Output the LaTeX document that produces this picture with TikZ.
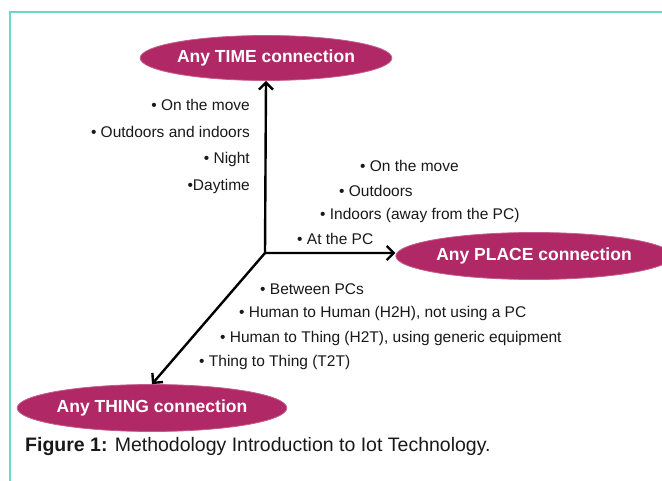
\documentclass[tikz,border=0pt]{standalone}
\usepackage{fontspec}
\setmainfont{Liberation Sans}
\usetikzlibrary{arrows.meta,shapes.geometric}
\definecolor{ellfill}{RGB}{176,40,102}
\definecolor{framecol}{RGB}{110,214,196}
\definecolor{txt}{RGB}{25,25,25}
\begin{document}
\begin{tikzpicture}[x=1pt,y=-1pt,
  conn/.style={ellipse, fill=ellfill, draw=ellfill!75!white, line width=0.8pt, text=white,
    font=\fontsize{17.5}{20}\selectfont\bfseries, inner sep=0pt},
  item/.style={text=txt, font=\fontsize{15.5}{17}\selectfont, inner sep=0pt},
  arr/.style={line width=2.4pt, -{Straight Barb[length=7pt,width=14pt]}},
  darr/.style={line width=2.4pt, {Straight Barb[length=7pt,width=14pt]}-{Straight Barb[length=7pt,width=14pt]}}
]
\useasboundingbox (0,0) rectangle (662,481);
\fill[white] (0,0) rectangle (662,481);
\draw[framecol, line width=2pt] (10,481) -- (10,12) -- (662,12);

\node[conn, minimum width=244pt, minimum height=45pt] (time) at (266,58) {Any TIME connection};
\node[conn, minimum width=248pt, minimum height=47pt] (place) at (534,256) {Any PLACE connection};
\node[conn, minimum width=244pt, minimum height=47pt] (thing) at (152,408) {Any THING connection};

\coordinate (o) at (265,253);
\draw[darr] (time.south) -- (o) -- (o -| place.west);
\draw[arr] (o) -- (thing.north);

\node[item, anchor=east] (t1) at (250,105) {• On the move};
\node[item, anchor=east] (t2) at (250,132) {• Outdoors and indoors};
\node[item, anchor=east] (t3) at (250,159) {• Night};
\node[item, anchor=east] (t4) at (250,186) {•Daytime};

\node[item, anchor=west] (p1) at (360,166) {• On the move};
\node[item, anchor=west] (p2) at (339,191) {• Outdoors};
\node[item, anchor=west] (p3) at (320,215) {• Indoors (away from the PC)};
\node[item, anchor=west] (p4) at (297,239) {• At the PC};

\node[item, anchor=west] (h1) at (260,289) {• Between PCs};
\node[item, anchor=west] (h2) at (239,313) {• Human to Human (H2H), not using a PC};
\node[item, anchor=west] (h3) at (220,338) {• Human to Thing (H2T), using generic equipment};
\node[item, anchor=west] (h4) at (199,362) {• Thing to Thing (T2T)};

\node[anchor=west, text=txt, inner sep=0pt, font=\fontsize{19.5}{22}\selectfont] (cap) at (25,447)
  {\textbf{Figure 1:} Methodology Introduction to Iot Technology.};
\end{tikzpicture}
\end{document}
